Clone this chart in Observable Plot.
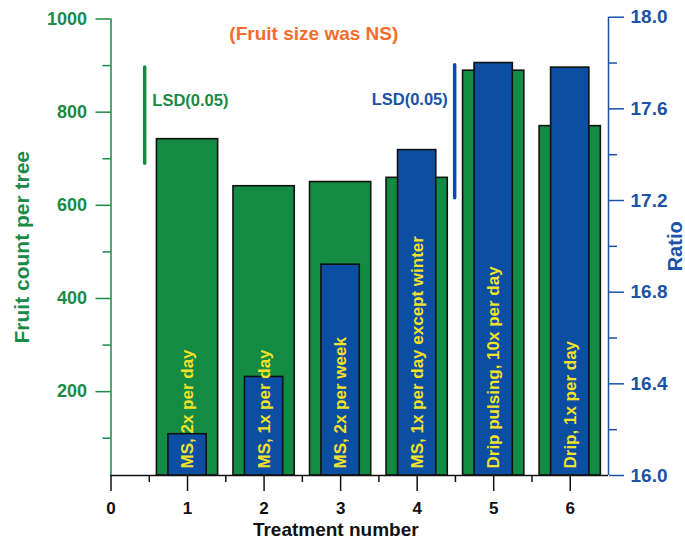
<!DOCTYPE html>
<html>
<head>
<meta charset="utf-8">
<script src="https://cdn.jsdelivr.net/npm/d3@7"></script>
<script src="https://cdn.jsdelivr.net/npm/@observablehq/plot@0.6"></script>
<style>
  body { margin: 0; background: white; }
  #wrap { position: relative; width: 685px; height: 539px; }
  #wrap svg { position: absolute; left: 0; top: 0; }
</style>
</head>
<body>
<div id="wrap"></div>
<script>
// ---- data ----
const treatments = [1, 2, 3, 4, 5, 6];
const fruitCount = [742, 641, 650, 659, 889, 770];
const ratioValues = [16.18, 16.43, 16.92, 17.42, 17.80, 17.78];
const barLabels = [
  "MS, 2x per day",
  "MS, 1x per day",
  "MS, 2x per week",
  "MS, 1x per day except winter",
  "Drip pulsing, 10x per day",
  "Drip, 1x per day"
];
const xTicks = [0, 1, 2, 3, 4, 5, 6];
const xMinorTicks = [0.5, 1.5, 2.5, 3.5, 4.5, 5.5];
const countTicks = [200, 400, 600, 800, 1000];
const countMinorTicks = [100, 300, 500, 700, 900];
const ratioTicks = [16.0, 16.4, 16.8, 17.2, 17.6, 18.0];
const ratioMinorTicks = [16.2, 16.6, 17.0, 17.4, 17.8];
const lsdCount = {x: 0.44, low: 689, high: 896};
const lsdRatio = {x: 4.49, low: 17.21, high: 17.79};

const GREEN = "#138b43", GREEN_TXT = "#1a8a44";
const BLUE = "#0b4ea2", BLUE_TXT = "#1b52a6";
const YELLOW = "#f4e227", ORANGE = "#f26d2c";
const FONT = "'Liberation Sans', Arial, Helvetica, sans-serif";

const rows = treatments.map((t, i) => ({t, count: fruitCount[i], ratio: ratioValues[i], label: barLabels[i]}));

const common = {
  width: 685, height: 539,
  marginLeft: 110.5, marginRight: 77, marginBottom: 64,
  x: {domain: [0, 6.5], axis: null},
  style: {fontFamily: FONT, fontWeight: "bold", background: "transparent", overflow: "visible"}
};

// ---- plot 1: fruit count (left axis) ----
const p1 = Plot.plot({
  ...common,
  marginTop: 18.5,
  y: {domain: [20, 1000], axis: null},
  marks: [
    Plot.rectY(rows, {x1: d => d.t - 0.4, x2: d => d.t + 0.4, y1: 20, y2: "count", fill: GREEN, stroke: "#111", strokeWidth: 1.6}),
    Plot.ruleX([lsdCount], {x: "x", y1: "low", y2: "high", stroke: GREEN, strokeWidth: 3.5, strokeLinecap: "round"}),
    Plot.text([lsdCount], {x: 0.54, y: 825, text: ["LSD(0.05)"], textAnchor: "start", fill: GREEN_TXT, fontSize: 16.5, fontWeight: "bold"}),
    // left axis
    Plot.ruleX([0], {y1: 20, y2: 1000, stroke: GREEN, strokeWidth: 1.5}),
    Plot.axisY(countTicks, {anchor: "left", tickSize: 15, tickPadding: 9, tickFormat: d => String(d), color: GREEN_TXT, strokeWidth: 1.5, fontSize: 18, fontWeight: "bold", label: null}),
    Plot.axisY(countMinorTicks, {anchor: "left", tickSize: 8, text: null, color: GREEN, strokeWidth: 1.5, label: null}),
    Plot.text(["Fruit count per tree"], {frameAnchor: "left", dx: -89, rotate: -90, textAnchor: "middle", lineAnchor: "middle", fill: GREEN_TXT, fontSize: 21, fontWeight: "bold"}),
    // x axis
    Plot.ruleY([20], {stroke: "#111", strokeWidth: 1.5}),
    Plot.axisX(xTicks, {anchor: "bottom", tickSize: 16, tickPadding: 10, color: "#111", strokeWidth: 1.5, fontSize: 17, fontWeight: "bold", label: null}),
    Plot.axisX(xMinorTicks, {anchor: "bottom", tickSize: 7, text: null, color: "#111", strokeWidth: 1.5, label: null}),
    Plot.text(["Treatment number"], {frameAnchor: "bottom", dx: -24, dy: 54, textAnchor: "middle", lineAnchor: "middle", fill: "#111", fontSize: 19, fontWeight: "bold"})
  ]
});

// ---- plot 2: ratio (right axis) ----
const p2 = Plot.plot({
  ...common,
  marginTop: 16.7,
  y: {domain: [16, 18], axis: null},
  marks: [
    Plot.rectY(rows, {x1: d => d.t - 0.25, x2: d => d.t + 0.25, y1: 16, y2: "ratio", fill: BLUE, stroke: "#111", strokeWidth: 1.6}),
    Plot.text(rows, {x: "t", y: 16, text: "label", rotate: -90, textAnchor: "start", lineAnchor: "middle", dy: -7, fill: YELLOW, fontSize: 17, fontWeight: "bold"}),
    Plot.ruleX([lsdRatio], {x: "x", y1: "low", y2: "high", stroke: BLUE, strokeWidth: 3.5, strokeLinecap: "round"}),
    Plot.text([lsdRatio], {x: 4.40, y: 17.64, text: ["LSD(0.05)"], textAnchor: "end", fill: BLUE_TXT, fontSize: 16.5, fontWeight: "bold"}),
    Plot.text(["(Fruit size was NS)"], {x: 2.65, y: 17.925, fill: ORANGE, fontSize: 19, fontWeight: "bold"}),
    // right axis
    Plot.ruleX([6.5], {y1: 16, y2: 18, stroke: BLUE_TXT, strokeWidth: 1.5}),
    Plot.axisY(ratioTicks, {anchor: "right", tickSize: 15, tickPadding: 7, tickFormat: d3.format(".1f"), color: BLUE_TXT, strokeWidth: 1.5, fontSize: 19, fontWeight: "bold", label: null}),
    Plot.axisY(ratioMinorTicks, {anchor: "right", tickSize: 8, text: null, color: BLUE_TXT, strokeWidth: 1.5, label: null}),
    Plot.text(["Ratio"], {frameAnchor: "right", dx: 67, rotate: -90, textAnchor: "middle", lineAnchor: "middle", fill: BLUE_TXT, fontSize: 20, fontWeight: "bold"})
  ]
});

const wrap = document.getElementById("wrap");
wrap.appendChild(p1);
wrap.appendChild(p2);
</script>
</body>
</html>
